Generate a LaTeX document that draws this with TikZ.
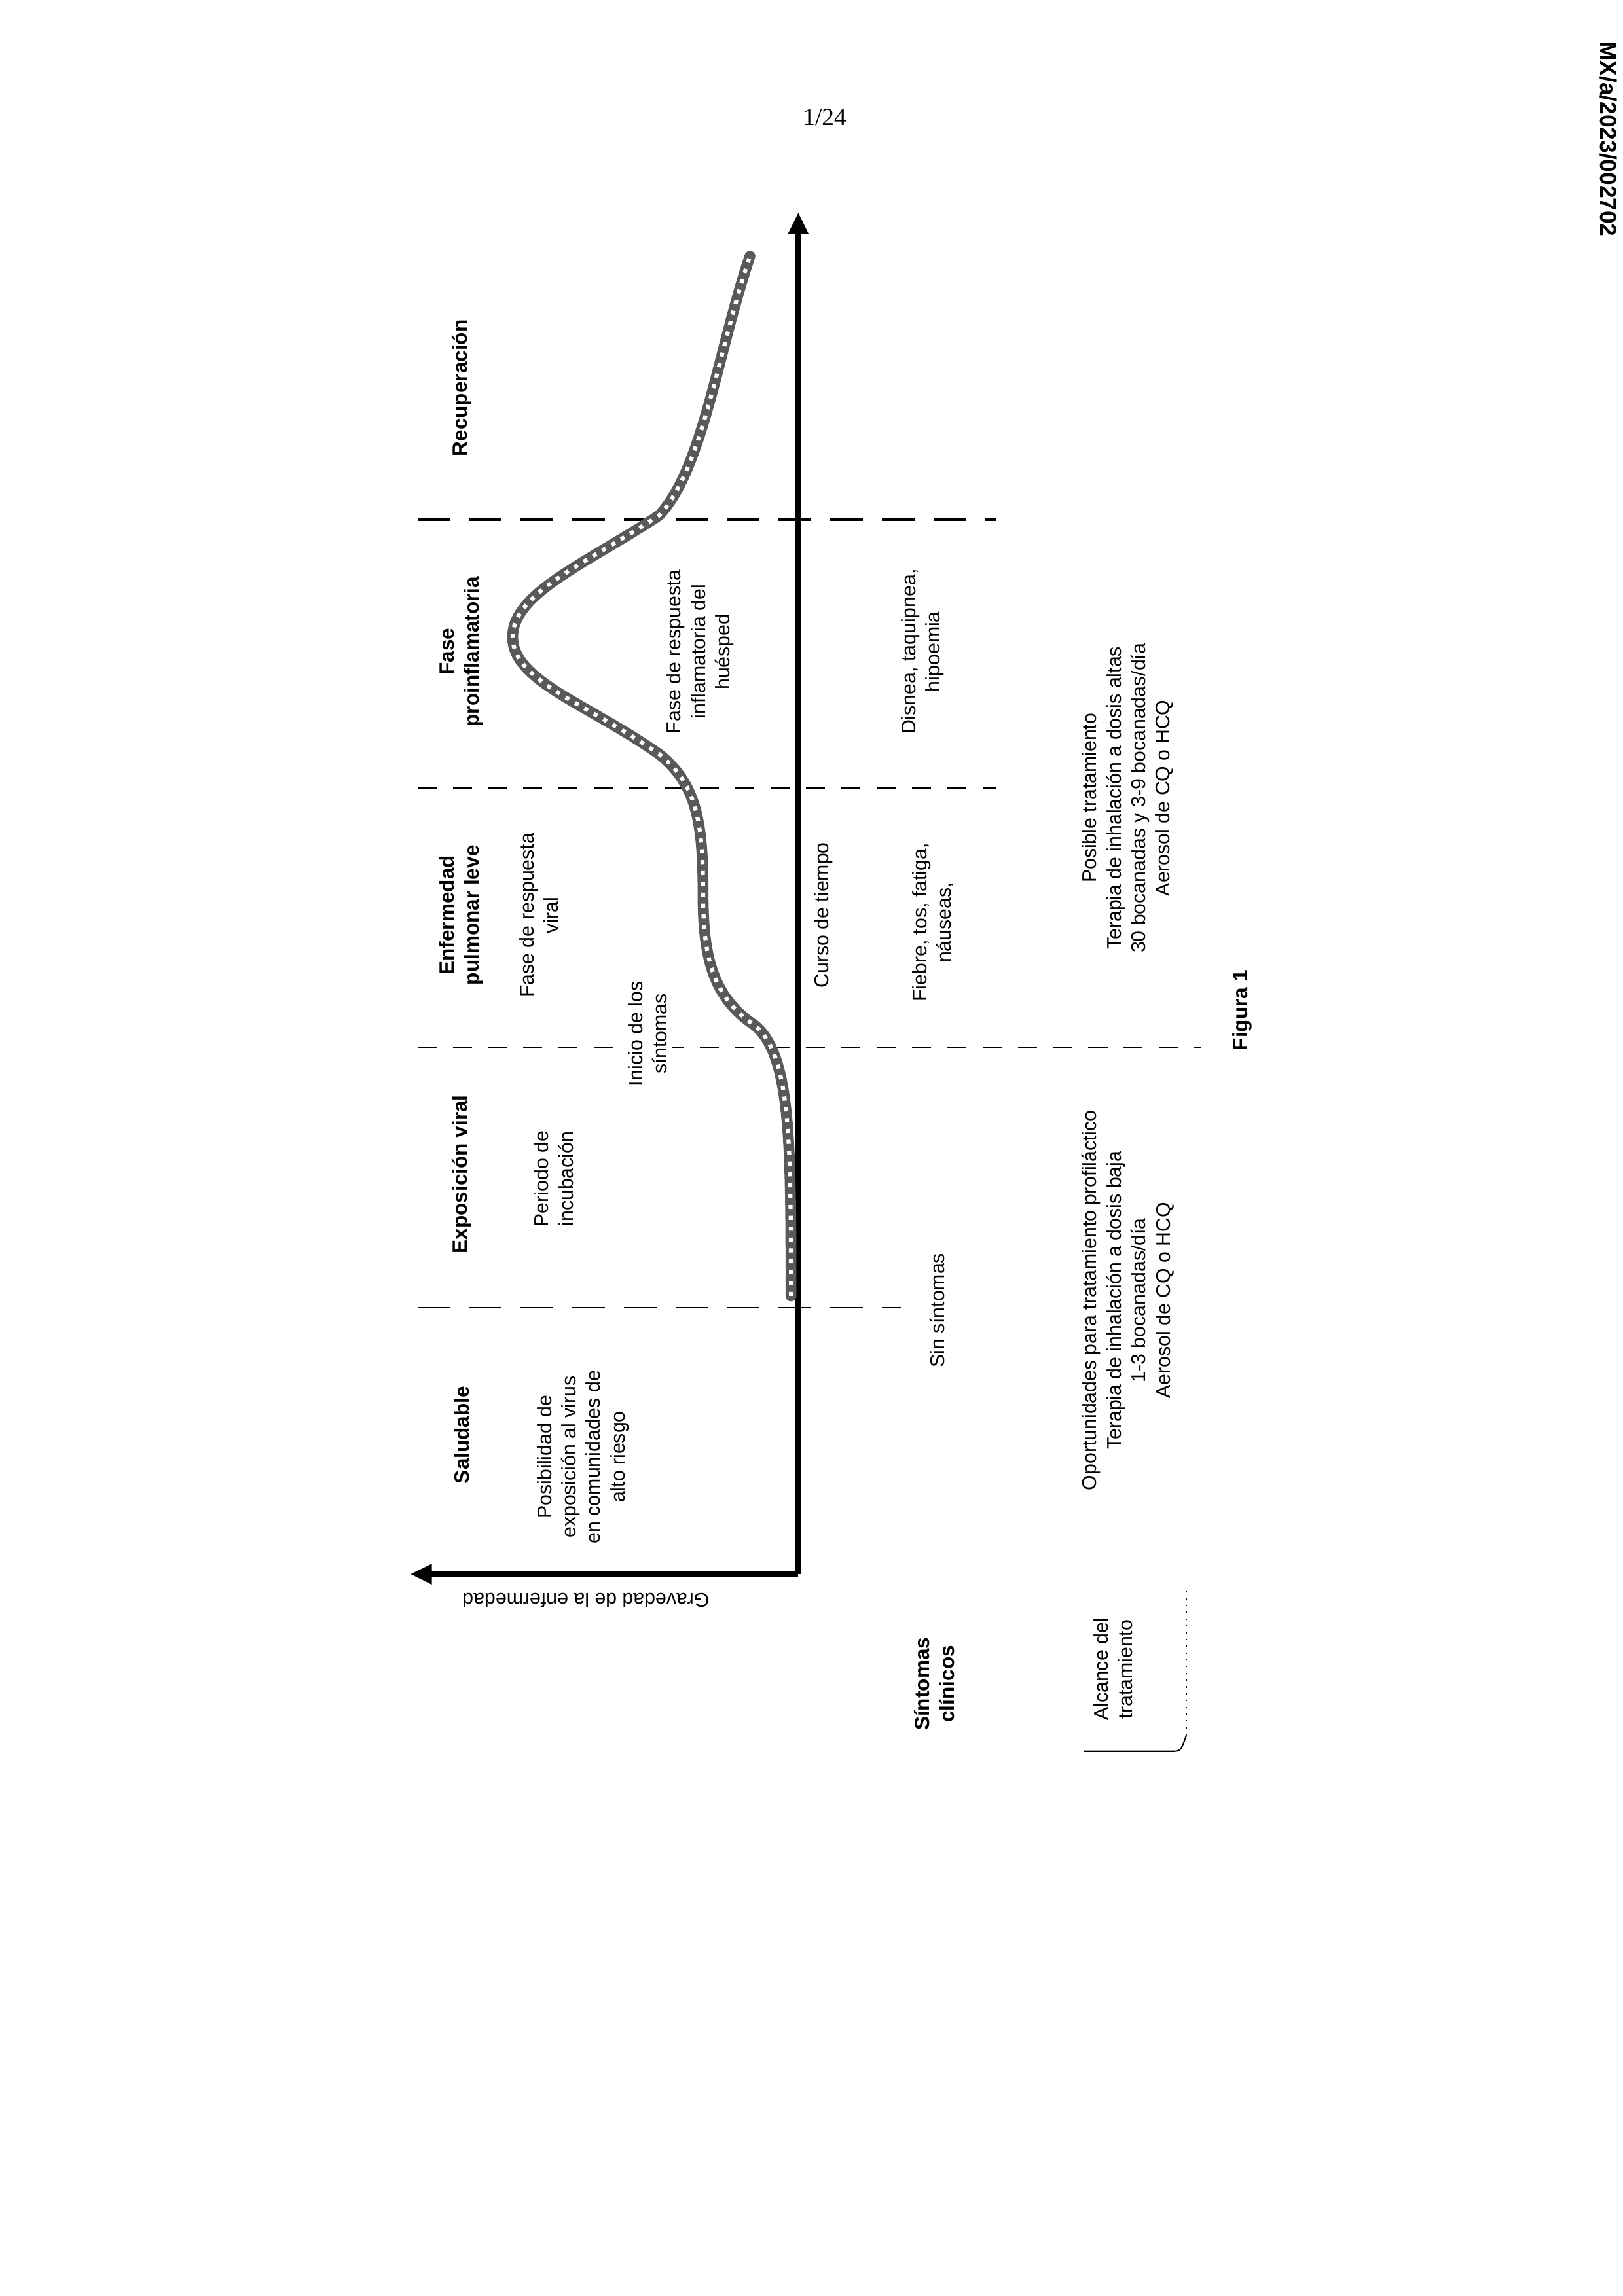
\documentclass[tikz,border=0pt]{standalone}
\usepackage{fontspec}
\setmainfont{Liberation Sans}
\newfontfamily\serifx{Liberation Serif}
\usetikzlibrary{arrows.meta}
\begin{document}
\begin{tikzpicture}[x=0.01895cm,y=-0.01895cm,
 base/.style={font=\fontsize{7.3}{9}\selectfont,align=center,inner sep=0pt},
 txt/.style={base,rotate=90},
 hdr/.style={txt,font=\fontsize{7.6}{9.2}\selectfont\bfseries},
 dl/.style={dash pattern=on 12pt off 7pt,line width=0.6pt},
 ds/.style={dash pattern=on 7pt off 6pt,line width=0.5pt}]
\useasboundingbox (0,0) rectangle (1108,1568);
\node[font=\serifx\fontsize{9}{10}\selectfont] (pg) at (563,80) {1/24};
\node[font=\fontsize{8.5}{10}\selectfont\bfseries,rotate=-90,inner sep=0pt] (mx) at (1098,95) {MX/a/2023/002702};
% axes
\coordinate (o) at (545,1075);
\coordinate (ot) at (545,145);
\coordinate (ol) at (280,1075);
\draw[line width=2.2pt,-{Triangle[length=8pt,width=7pt]}] (o) -- (ot);
\draw[line width=2.2pt,-{Triangle[length=8pt,width=7pt]}] (o) -- (ol);
\node[base,rotate=180] (grav) at (400,1093) {Gravedad de la enfermedad};
% dashed lines
\coordinate (d1a) at (285,893); \coordinate (d1b) at (615,893);
\coordinate (d2a) at (285,715); \coordinate (d2b) at (820,715);
\coordinate (d3a) at (285,538); \coordinate (d3b) at (680,538);
\coordinate (d4a) at (285,355); \coordinate (d4b) at (680,355);
\draw[dl] (d1a) -- (d1b);
\draw[ds] (d2a) -- (d2b);
\draw[ds] (d3a) -- (d3b);
\draw[dl,line width=0.9pt] (d4a) -- (d4b);
% curve
\draw[line width=4pt,black!65,line cap=round] (540,885) .. controls (540,780) and (540,720) .. (515,700) .. controls (485,680) and (480,650) .. (480,610) .. controls (480,560) and (475,535) .. (450,515) .. controls (400,480) and (350,465) .. (350,435) .. controls (350,405) and (400,385) .. (450,352) .. controls (480,320) and (490,240) .. (512,175);
\draw[line width=1.5pt,white,dash pattern=on 1.5pt off 2.5pt] (540,885) .. controls (540,780) and (540,720) .. (515,700) .. controls (485,680) and (480,650) .. (480,610) .. controls (480,560) and (475,535) .. (450,515) .. controls (400,480) and (350,465) .. (350,435) .. controls (350,405) and (400,385) .. (450,352) .. controls (480,320) and (490,240) .. (512,175);
% headers
\node[hdr] (h1) at (315,980) {Saludable};
\node[hdr] (h2) at (315,802) {Exposición viral};
\node[hdr] (h3) at (315,625) {Enfermedad\\pulmonar leve};
\node[hdr] (h4) at (315,445) {Fase\\proinflamatoria};
\node[hdr] (h5) at (315,265) {Recuperación};
% descriptions
\node[txt] (p1) at (398,995) {Posibilidad de\\exposición al virus\\en comunidades de\\alto riesgo};
\node[txt] (p2) at (378,805) {Periodo de\\incubación};
\node[txt] (p3) at (368,625) {Fase de respuesta\\viral};
\node[txt,fill=white,inner sep=2pt] (p4) at (442,706) {Inicio de los\\síntomas};
\node[txt] (p5) at (478,445) {Fase de respuesta\\inflamatoria del\\huésped};
\node[txt] (ct) at (562,625) {Curso de tiempo};
% symptoms
\node[txt] (s1) at (640,895) {Sin síntomas};
\node[txt] (s2) at (637,630) {Fiebre, tos, fatiga,\\náuseas,};
\node[txt] (s3) at (630,445) {Disnea, taquipnea,\\hipoemia};
% treatment
\node[txt] (t1) at (770,888) {Oportunidades para tratamiento profiláctico\\Terapia de inhalación a dosis baja\\1-3 bocanadas/día\\Aerosol de CQ o HCQ};
\node[txt] (t2) at (770,545) {Posible tratamiento\\Terapia de inhalación a dosis altas\\30 bocanadas y 3-9 bocanadas/día\\Aerosol de CQ o HCQ};
\node[hdr] (fig) at (848,690) {Figura 1};
% left labels
\node[hdr] (sc) at (638,1150) {Síntomas\\clínicos};
\node[txt] (at) at (760,1140) {Alcance del\\tratamiento};
\coordinate (b1) at (740,1196); \coordinate (b2) at (800,1196);
\coordinate (b3) at (810,1185); \coordinate (b4) at (810,1085);
\draw[line width=0.5pt] (b1) -- (b2) .. controls (806,1196) .. (b3);
\draw[line width=0.5pt,dotted] (b3) -- (b4);
\end{tikzpicture}
\end{document}
